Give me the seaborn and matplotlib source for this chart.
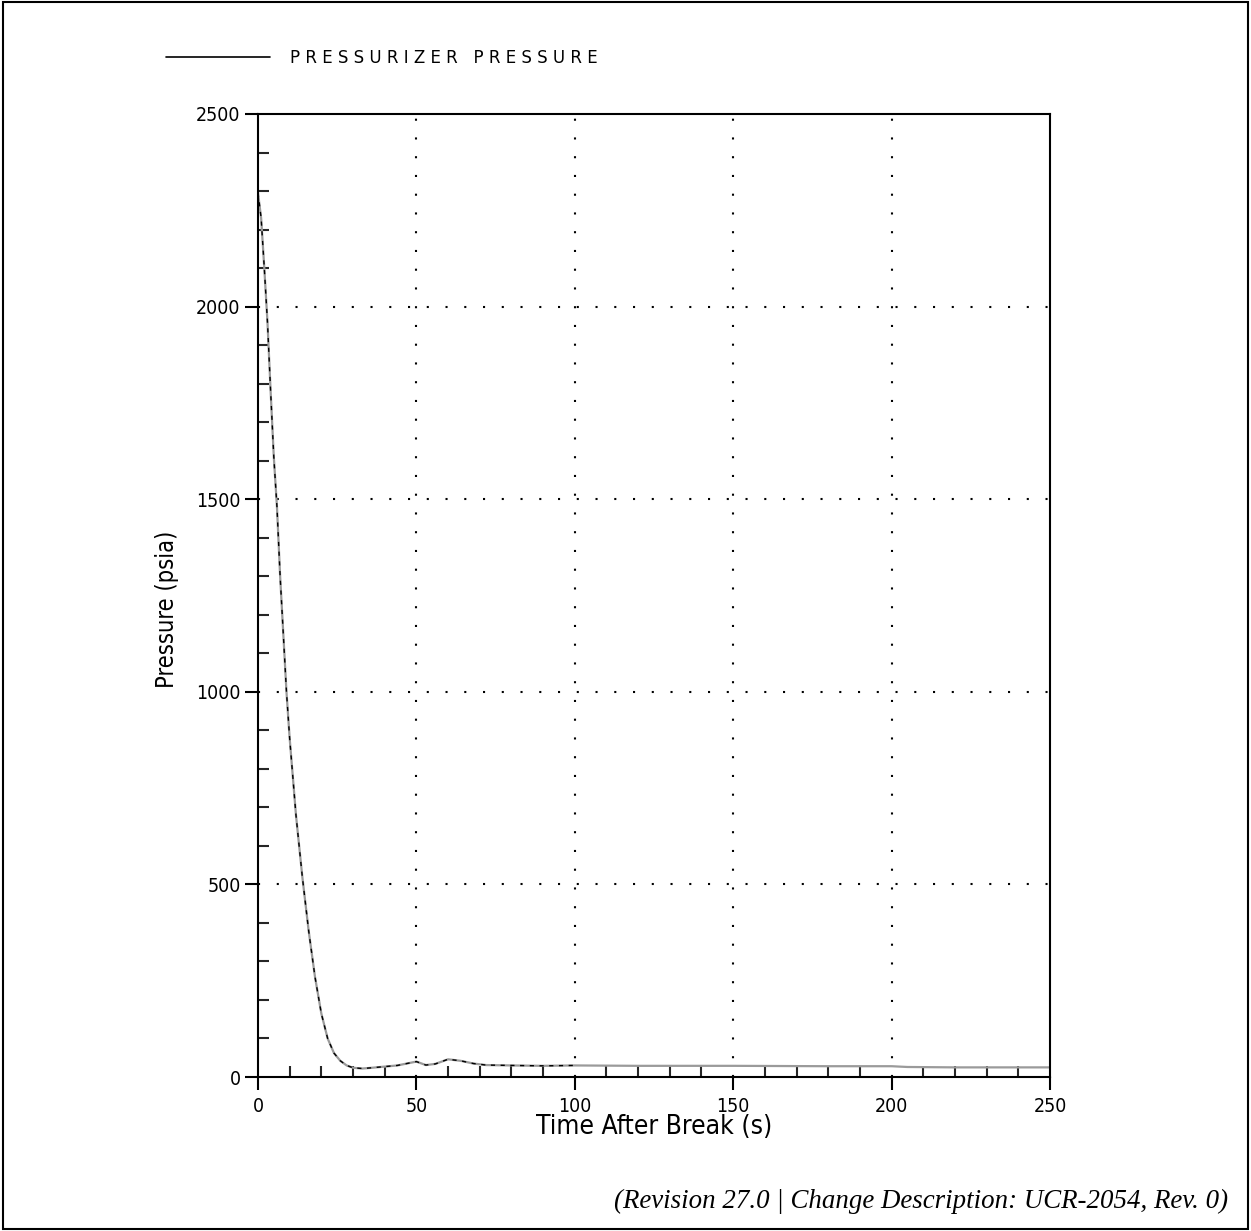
import numpy as np
import pandas as pd
import matplotlib
matplotlib.use("Agg")
import matplotlib.pyplot as plt
from matplotlib.ticker import MultipleLocator
from matplotlib.patches import Rectangle
import seaborn as sns

# --- data ---
time_s = [0, 1, 2, 3, 4, 5, 6, 7, 8, 9, 10, 12, 14, 16, 18, 20, 22, 24, 26, 28,
          30, 33, 36, 40, 44, 47, 50, 53, 56, 60, 64, 68, 72, 80, 90, 100, 120,
          150, 180, 200, 205, 220, 250]
pressure_psia = [2296, 2230, 2100, 1960, 1780, 1610, 1480, 1300, 1150, 1000, 880,
                 680, 520, 380, 260, 165, 100, 62, 42, 30, 24, 22, 24, 27, 30, 35,
                 40, 31, 34, 46, 42, 35, 31, 30, 29, 30, 29, 29, 28, 28, 26, 25, 25]
series_label = "PRESSURIZER PRESSURE"
x_label = "Time After Break (s)"
y_label = "Pressure (psia)"
footer = "(Revision 27.0 | Change Description: UCR-2054, Rev. 0)"

df = pd.DataFrame({"t": time_s, "p": pressure_psia})

sns.set_style("white")
plt.rcParams["font.family"] = ["DejaVu Sans"]
plt.rcParams["font.stretch"] = "condensed"
plt.rcParams["text.color"] = "black"
plt.rcParams["axes.labelcolor"] = "black"

fig = plt.figure(figsize=(12.51, 12.31), dpi=100)
ax = fig.add_axes([0.2062, 0.1251, 0.6331, 0.7823])

# main curve (gray) with black dashed overlay, like the scanned plot
sns.lineplot(data=df, x="t", y="p", ax=ax, color="#9a9a9a", lw=1.6)
sns.lineplot(data=df[df["t"] <= 100], x="t", y="p", ax=ax, color="black",
             lw=1.0, linestyle=(0, (3, 4)))

ax.set_xlim(0, 250)
ax.set_ylim(0, 2500)

# ticks: majors outward, minors inward
ax.xaxis.set_major_locator(MultipleLocator(50))
ax.xaxis.set_minor_locator(MultipleLocator(10))
ax.yaxis.set_major_locator(MultipleLocator(500))
ax.yaxis.set_minor_locator(MultipleLocator(100))
ax.tick_params(which="major", direction="out", length=9.5, width=1.5,
               labelsize=14, pad=3, colors="black")
ax.tick_params(axis="x", which="major", pad=5)
ax.tick_params(which="minor", direction="in", length=8, width=1.5)
ax.tick_params(which="both", bottom=True, left=True, top=False, right=False)

for s in ax.spines.values():
    s.set_linewidth(1.5)
    s.set_color("black")

# dotted grid at interior majors
for gx in [50, 100, 150, 200]:
    ax.axvline(gx, color="black", lw=1.5, linestyle=(0, (1, 8)), zorder=0)
for gy in [500, 1000, 1500, 2000]:
    ax.axhline(gy, color="black", lw=1.5, linestyle=(0, (1, 8)), zorder=0)

ax.set_xlabel(x_label, fontsize=19)
ax.set_ylabel(y_label, fontsize=17)
ax.xaxis.set_label_coords(0.5, -0.038)
ax.yaxis.set_label_coords(-0.1, 0.486)

# legend at top
spaced = "   ".join(" ".join(w) for w in series_label.split())
handle = plt.Line2D([], [], color="black", lw=1.2)
fig.legend([handle], [spaced], loc="center left", bbox_to_anchor=(0.121, 0.953),
           frameon=False, handlelength=6.2, handletextpad=1.2,
           prop={"family": "DejaVu Sans", "stretch": "normal", "size": 12})

fig.text(0.982, 0.0187, footer, ha="right", va="baseline", fontsize=19.4,
         style="italic", family=["Liberation Serif", "DejaVu Serif"],
         fontstretch="normal")

fig.add_artist(Rectangle((0.002, 0.002), 0.996, 0.996, transform=fig.transFigure,
                         fill=False, edgecolor="black", lw=1.5))

fig.savefig("out.png", dpi=100)
